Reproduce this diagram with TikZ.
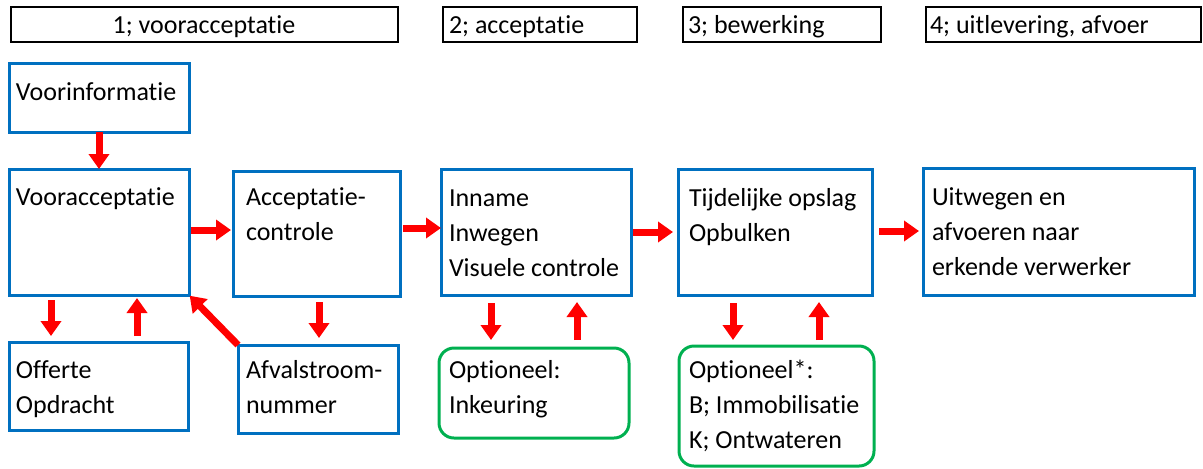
\documentclass[tikz,border=0pt]{standalone}
\usepackage{fontspec}
\setmainfont{Carlito}[Ligatures={NoCommon}, RawFeature={-liga;-clig}]
\usetikzlibrary{arrows.meta,fit}

\definecolor{boxblue}{HTML}{0070C0}
\definecolor{optgreen}{HTML}{00B050}
\definecolor{flowred}{HTML}{FF0000}

\tikzset{
  frame/.style={draw, inner sep=0pt, outer sep=0pt},
  header/.style={frame, draw=black, line width=1pt},
  stepbox/.style={frame, draw=boxblue, line width=1.5pt},
  optbox/.style={frame, draw=optgreen, line width=1.5pt, rounded corners=7.5pt},
  txt/.style={anchor=base west, inner sep=0pt, outer sep=0pt},
  flow/.style={draw=flowred, line width=3.5pt,
    -{Triangle[width=10pt,length=7.5pt]}},
}
\newcommand{\lines}[1]{\parbox[t]{120pt}{#1}}

\begin{document}
\begin{tikzpicture}[x=0.5pt, y=-0.5pt,
  every node/.style={font=\fontsize{13pt}{17.5pt}\selectfont}]
\useasboundingbox (0,0) rectangle (1203,468);

% phase headers
\node[header, fit={(11,7)(398,42)}]   (h1) {};
\node[header, fit={(443,7)(637,42)}]  (h2) {};
\node[header, fit={(683,7)(881,42)}]  (h3) {};
\node[header, fit={(926,7)(1201,42)}] (h4) {};
\node[anchor=base, inner sep=0pt] (h1t) at (204,33) {1; vooracceptatie};
\node[txt] (h2t) at (449,33) {2; acceptatie};
\node[txt] (h3t) at (688,33) {3; bewerking};
\node[txt] (h4t) at (930,33) {4; uitlevering, afvoer};

% process steps
\node[stepbox, fit={(9,63)(189,132)}]    (vinfo) {};
\node[stepbox, fit={(9,169)(189,295)}]   (voor) {};
\node[stepbox, fit={(233,171)(400,296)}] (acc) {};
\node[stepbox, fit={(441,169)(631,295)}] (inn) {};
\node[stepbox, fit={(678,169)(872,295)}] (tij) {};
\node[stepbox, fit={(923,168)(1194,295)}] (uit) {};
\node[stepbox, fit={(9,342)(188,430)}]   (off) {};
\node[stepbox, fit={(238,345)(398,433)}] (afv) {};
\node[optbox, fit={(439,348)(629,438)}]  (opt1) {};
\node[optbox, fit={(679,346)(874,466)}]  (opt2) {};

% box texts
\node[txt] (vinfot) at (16,100)  {Voorinformatie};
\node[txt] (voort)  at (16,205)  {Vooracceptatie};
\node[txt] (acct)   at (246,205) {\lines{Acceptatie-\\controle}};
\node[txt] (innt)   at (449,206) {\lines{Inname\\Inwegen\\Visuele controle}};
\node[txt] (tijt)   at (689,206) {\lines{Tijdelijke opslag\\Opbulken}};
\node[txt] (uitt)   at (932,205) {\lines{Uitwegen en\\afvoeren naar\\erkende verwerker}};
\node[txt] (offt)   at (16,378)  {\lines{Offerte\\Opdracht}};
\node[txt] (afvt)   at (246,378) {\lines{Afvalstroom-\\nummer}};
\node[txt] (opt1t)  at (449,378) {\lines{Optioneel:\\Inkeuring}};
\node[txt] (opt2t)  at (689,378) {\lines{Optioneel*:\\B; Immobilisatie\\K; Ontwateren}};

% main flow
\draw[flow] (vinfo.south) -- (voor.north);
\draw[flow, shorten <=1pt, shorten >=1pt]
  (0,230 -| voor.east) -- (0,230 -| acc.west);
\draw[flow, shorten <=1.5pt] (0,228 -| acc.east) -- (0,228 -| inn.west);
\draw[flow, shorten <=1pt, shorten >=2.5pt]
  (0,232 -| inn.east) -- (0,232 -| tij.west);
\draw[flow, shorten <=3.5pt, shorten >=2pt]
  (0,231 -| tij.east) -- (0,231 -| uit.west);

% side loops
\draw[flow, shorten <=2.5pt, shorten >=3pt] (51,0 |- voor.south) -- (51,0 |- off.north);
\draw[flow, shorten <=3pt, shorten >=1.5pt] (137,0 |- off.north) -- (137,0 |- voor.south);
\draw[flow, shorten >=0.5pt] (afv.north west) -- (voor.south east);
\draw[flow, shorten <=3pt, shorten >=3.5pt] (319,0 |- acc.south) -- (319,0 |- afv.north);
\draw[flow, shorten <=4pt, shorten >=4pt] (491,0 |- inn.south) -- (491,0 |- opt1.north);
\draw[flow, shorten <=4pt, shorten >=3.5pt] (577,0 |- opt1.north) -- (577,0 |- inn.south);
\draw[flow, shorten <=4pt, shorten >=3pt] (733,0 |- tij.south) -- (733,0 |- opt2.north);
\draw[flow, shorten <=3pt, shorten >=3.5pt] (819,0 |- opt2.north) -- (819,0 |- tij.south);
\end{tikzpicture}
\end{document}
